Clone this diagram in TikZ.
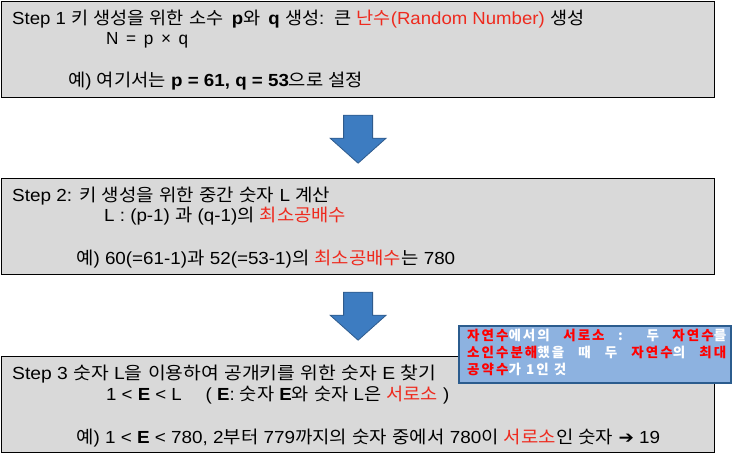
\documentclass[tikz,border=0pt]{standalone}
\usepackage{fontspec}
\usepackage{graphicx}
\usetikzlibrary{calc}
\setmainfont{Liberation Sans}
\newfontfamily\krfont{Noto Sans CJK KR}
\newfontfamily\latfont{Liberation Sans}
\newfontfamily\symfont{DejaVu Sans}
\newfontfamily\calloutfont{Noto Sans CJK KR}[LetterSpace=15]
\XeTeXinterchartokenstate=1
\newXeTeXintercharclass\krclass
\count255="AC00
\loop
  \XeTeXcharclass\count255=\krclass
  \ifnum\count255<"D7A3 \advance\count255 by 1
\repeat
\XeTeXinterchartoks 0 \krclass = {\krfont}
\XeTeXinterchartoks 4095 \krclass = {\krfont}
\XeTeXinterchartoks \krclass 0 = {\latfont}
\XeTeXinterchartoks \krclass 4095 = {\latfont}
\definecolor{boxgray}{HTML}{D9D9D9}
\definecolor{txtred}{HTML}{EE2A1E}
\definecolor{arrowblue}{HTML}{3D7CC1}
\definecolor{arrowedge}{HTML}{2F5B8C}
\definecolor{calloutfill}{HTML}{8DB2E0}
\definecolor{calloutedge}{HTML}{2B5C8E}
\newcommand{\rd}[1]{\textcolor{txtred}{#1}}
\newcommand{\cwh}[1]{\textcolor{white}{#1}}
\newcommand{\crd}[1]{\textcolor{red}{#1}}
\newcommand{\fitline}[2]{\resizebox{#1pt}{\height}{#2}}
\newcommand{\calsetup}{\XeTeXinterchartokenstate=0\relax\calloutfont\bfseries\fontsize{13.5}{16}\selectfont}
\tikzset{
  stepbox/.style={draw=black, line width=1.2pt, fill=boxgray, minimum width=713pt, minimum height=96pt, inner sep=0pt, anchor=north west},
  txt/.style={anchor=base west, inner sep=0pt, font=\fontsize{17.5}{20}\selectfont},
  bigarrow/.style={fill=arrowblue, draw=arrowedge, line width=0.8pt, line join=miter},
  calloutbox/.style={draw=calloutedge, line width=2pt, fill=calloutfill, minimum width=272pt, minimum height=57pt, inner sep=0pt, anchor=north west},
  ctxt/.style={anchor=base west, inner sep=0pt}
}
\begin{document}
\begin{tikzpicture}[x=1pt,y=-1pt]
\useasboundingbox (0,0) rectangle (733,455);
% boxes
\node[stepbox] (b1) at (1,1) {};
\node[stepbox] (b2) at (1,178) {};
\node[stepbox] (b3) at (1,356) {};
% arrows
\foreach \s in {b1,b2}{
  \draw[bigarrow] ($(\s.south)+(-14.5,17)$) -- ($(\s.south)+(14.5,17)$) -- ($(\s.south)+(14.5,40)$)
    -- ($(\s.south)+(28,40)$) -- ($(\s.south)+(0,65)$) -- ($(\s.south)+(-28,40)$)
    -- ($(\s.south)+(-14.5,40)$) -- cycle;
}
% box 1 text
\node[txt] (t11) at (12,24) {\fitline{572}{Step 1 키 생성을 위한 소수 \,\textbf{p}와 \,\textbf{q} 생성: \,큰 \rd{난수(Random Number)} 생성}};
\node[txt] (t12) at (106,44) {\fitline{82}{N \,=\, p \,×\, q}};
\node[txt] (t13) at (68,86) {\fitline{295}{예) 여기서는 \textbf{p = 61, q = 53}으로 설정}};
% box 2 text
\node[txt] (t21) at (12,201) {\fitline{318}{Step 2: 키 생성을 위한 중간 숫자 L 계산}};
\node[txt] (t22) at (104,221) {\fitline{242}{L : (p-1) 과 (q-1)의 \rd{최소공배수}}};
\node[txt] (t23) at (76,264) {\fitline{379}{예) 60(=61-1)과 52(=53-1)의 \rd{최소공배수}는 780}};
% box 3 text
\node[txt] (t31) at (12,379) {\fitline{424}{Step 3 숫자 L을 이용하여 공개키를 위한 숫자 E 찾기}};
\node[txt] (t32) at (106,400) {\fitline{343}{1 < \textbf{E} < L \quad( \textbf{E}: 숫자 \textbf{E}와 숫자 L은 \rd{서로소} )}};
\node[txt] (t33) at (76,443) {\fitline{584}{예) 1 < \textbf{E} < 780, 2부터 779까지의 숫자 중에서 780이 \rd{서로소}인 숫자 {\symfont\fontsize{17}{18}\selectfont ➔} 19}};
% callout
\node[calloutbox] (c) at (458,325) {};
\node[ctxt] (c1) at (467,340) {\calsetup\makebox[259pt][s]{\crd{자연수}\cwh{에서의} \crd{서로소} \cwh{:} \cwh{두} \crd{자연수}\cwh{를}}};
\node[ctxt] (c2) at (467,357) {\calsetup\makebox[259pt][s]{\crd{소인수분해}\cwh{했을} \cwh{때} \cwh{두} \crd{자연수}\cwh{의} \crd{최대}}};
\node[ctxt] (c3) at (467,374) {\calsetup\crd{공약수}\cwh{가 1인 것}};
\end{tikzpicture}
\end{document}
